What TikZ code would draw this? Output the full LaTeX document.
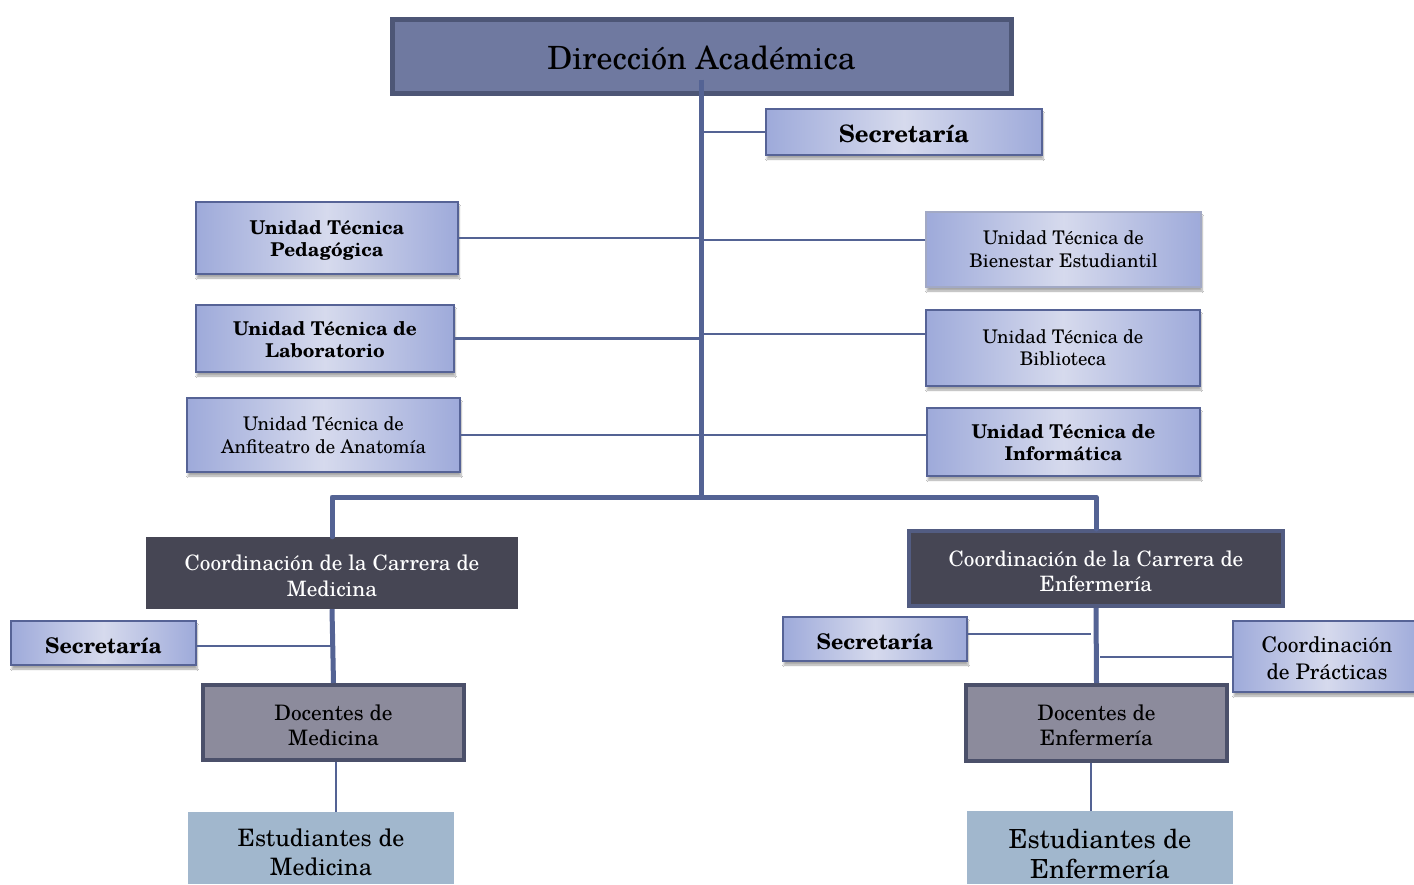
\documentclass[tikz,border=0pt]{standalone}
\usepackage{fontspec}
\setmainfont{TeX Gyre Schola}
\usetikzlibrary{shadows.blur}
\definecolor{linecol}{RGB}{84,99,148}
\definecolor{dirfill}{RGB}{111,121,160}
\definecolor{dirbord}{RGB}{77,86,118}
\definecolor{gedge}{RGB}{158,170,218}
\definecolor{gmid}{RGB}{214,218,237}
\definecolor{lbord}{RGB}{86,99,150}
\definecolor{coordfill}{RGB}{70,70,84}
\definecolor{coordbord}{RGB}{82,92,130}
\definecolor{docfill}{RGB}{140,139,156}
\definecolor{docbord}{RGB}{75,80,106}
\definecolor{estfill}{RGB}{161,183,205}
\newcommand{\fs}[2]{\fontsize{#1}{#2}\selectfont}
% text of a box: name, downward offset, font, text
\newcommand{\boxtext}[4]{\node[txt, font=#3] (#1-t) at ([yshift=-#2pt]#1.center) {#4};}
\tikzset{
  x=1pt, y=-1pt,
  box/.style={rectangle, inner sep=0pt},
  txt/.style={inner sep=0pt, align=center},
  lightbox/.style={box, draw=lbord, line width=2.5pt,
    left color=gedge, right color=gedge, middle color=gmid,
    blur shadow={shadow xshift=1pt, shadow yshift=-4pt, shadow blur steps=6, shadow opacity=35}},
  softbox/.style={lightbox, draw=lbord!55, line width=1.2pt},
  coordbox/.style={box, fill=coordfill},
  docbox/.style={box, fill=docfill, draw=docbord, line width=4pt},
  estbox/.style={box, fill=estfill},
  trunk/.style={draw=linecol, line width=5pt},
  branch/.style={draw=linecol, line width=2.8pt},
  thinbranch/.style={draw=linecol, line width=1.4pt},
}
\begin{document}
\begin{tikzpicture}
\useasboundingbox (0,0) rectangle (1414,884);
\fill[white] (0,0) rectangle (1414,884);
\begin{scope}
\clip (0,0) rectangle (1414,884);

% top level
\node[box, fill=dirfill, draw=dirbord, line width=5pt, minimum width=619pt, minimum height=74pt] (dir) at (701.5,56) {};
\node[lightbox, minimum width=276pt, minimum height=46pt] (sec) at (904,132) {};

% technical units, left column
\node[lightbox, minimum width=262pt, minimum height=72pt] (utp) at (327,238) {};
\node[lightbox, minimum width=258pt, minimum height=67pt] (utl) at (325,338.5) {};
\node[lightbox, minimum width=273pt, minimum height=74pt] (uta) at (323.5,435) {};

% technical units, right column
\node[softbox, minimum width=275pt, minimum height=75pt] (utb) at (1063.5,249.5) {};
\node[lightbox, minimum width=274pt, minimum height=76pt] (utbi) at (1063,348) {};
\node[lightbox, minimum width=273pt, minimum height=68pt] (uti) at (1063.5,442) {};

% medicine branch
\node[coordbox, minimum width=372pt, minimum height=72pt] (cm) at (332,573) {};
\node[lightbox, minimum width=185pt, minimum height=44pt] (sm) at (103.5,643) {};
\node[docbox, minimum width=261pt, minimum height=75pt] (dm) at (333.5,722.5) {};
\node[estbox, minimum width=266pt, minimum height=72pt] (em) at (321,848) {};

% nursing branch
\node[coordbox, draw=coordbord, line width=4pt, minimum width=374pt, minimum height=75pt] (ce) at (1096,568.5) {};
\node[lightbox, minimum width=184pt, minimum height=44pt] (se) at (875,639) {};
\node[lightbox, minimum width=188pt, minimum height=71pt] (cp) at (1327,656.5) {};
\node[docbox, minimum width=261pt, minimum height=76pt] (de) at (1096.5,723) {};
\node[estbox, minimum width=266pt, minimum height=73pt] (ee) at (1100,847.5) {};

% box texts
\boxtext{dir}{1.5}{\fs{32}{36}}{Dirección Académica}
\boxtext{sec}{2.3}{\fs{24}{28}\bfseries}{Secretaría}
\boxtext{utp}{2.4}{\fs{19}{22.5}\bfseries}{Unidad Técnica\\Pedagógica}
\boxtext{utl}{1}{\fs{19}{22}\bfseries}{Unidad Técnica de\\Laboratorio}
\boxtext{uta}{0}{\fs{18.8}{23.3}}{Unidad Técnica de\\Anfiteatro de Anatomía}
\boxtext{utb}{0}{\fs{18.8}{22.7}}{Unidad Técnica de\\Bienestar Estudiantil}
\boxtext{utbi}{0}{\fs{18.8}{21.7}}{Unidad Técnica de\\Biblioteca}
\boxtext{uti}{0.6}{\fs{19}{21.7}\bfseries}{Unidad Técnica de\\Informática}
\boxtext{cm}{2.6}{\fs{21.2}{26}\color{white}}{Coordinación de la Carrera de\\Medicina}
\boxtext{ce}{3.2}{\fs{21.2}{25}\color{white}}{Coordinación de la Carrera de\\Enfermería}
\boxtext{sm}{3}{\fs{21.5}{24}\bfseries}{Secretaría}
\boxtext{se}{3}{\fs{21.5}{24}\bfseries}{Secretaría}
\boxtext{cp}{2}{\fs{21.5}{26.7}}{Coordinación\\de Prácticas}
\boxtext{dm}{2.6}{\fs{21.3}{25}}{Docentes de\\Medicina}
\boxtext{de}{2}{\fs{21.3}{25}}{Docentes de\\Enfermería}
\boxtext{em}{4}{\fs{24}{29}}{Estudiantes de\\Medicina}
\boxtext{ee}{6}{\fs{26.3}{30}}{Estudiantes de\\Enfermería}

% connectors
\coordinate (j) at (701,497);
\coordinate (top) at ([yshift=16pt]dir.south);
\draw[trunk] (top -| j) -- (j);
\draw[branch] (sec.west) -- (sec.west -| j);

\draw[branch] (utp.east) -- (utp.east -| j);
\draw[branch] (utl.east) -- (utl.east -| j);
\draw[branch] (uta.east) -- (uta.east -| j);

\coordinate (rb) at ([yshift=9.5pt]utb.west);
\coordinate (rbi) at ([yshift=14pt]utbi.west);
\coordinate (ri) at ([yshift=7pt]uti.west);
\draw[thinbranch] (rb) -- (rb -| j);
\draw[branch] (rbi) -- (rbi -| j);
\draw[thinbranch] (ri) -- (ri -| j);

\draw[trunk, line cap=round, line join=round]
  (cm.north) -- (cm.north |- j) -- (ce.north |- j) -- (ce.north);

% medicine links
\draw[trunk] (cm.south) -- (dm.north);
\coordinate (smr) at ([yshift=-3pt]sm.east);
\draw[thinbranch, line width=2pt] (smr) -- (smr -| cm.south);
\coordinate (dms) at ([xshift=2.5pt]dm.south);
\draw[thinbranch, line width=2pt] (dms) -- (dms |- em.north);

% nursing links
\draw[trunk] (ce.south) -- (de.north);
\coordinate (ser) at ([yshift=5pt]se.east);
\coordinate (cel) at ([xshift=-5pt]ce.south);
\draw[thinbranch, line width=2pt] (ser) -- (ser -| cel);
\coordinate (cer) at ([xshift=4pt]ce.south);
\draw[thinbranch, line width=2pt] (cer |- cp.west) -- (cp.west);
\coordinate (des) at ([xshift=-5.5pt]de.south);
\draw[thinbranch, line width=2pt] (des) -- (des |- ee.north);
\end{scope}
\end{tikzpicture}
\end{document}
